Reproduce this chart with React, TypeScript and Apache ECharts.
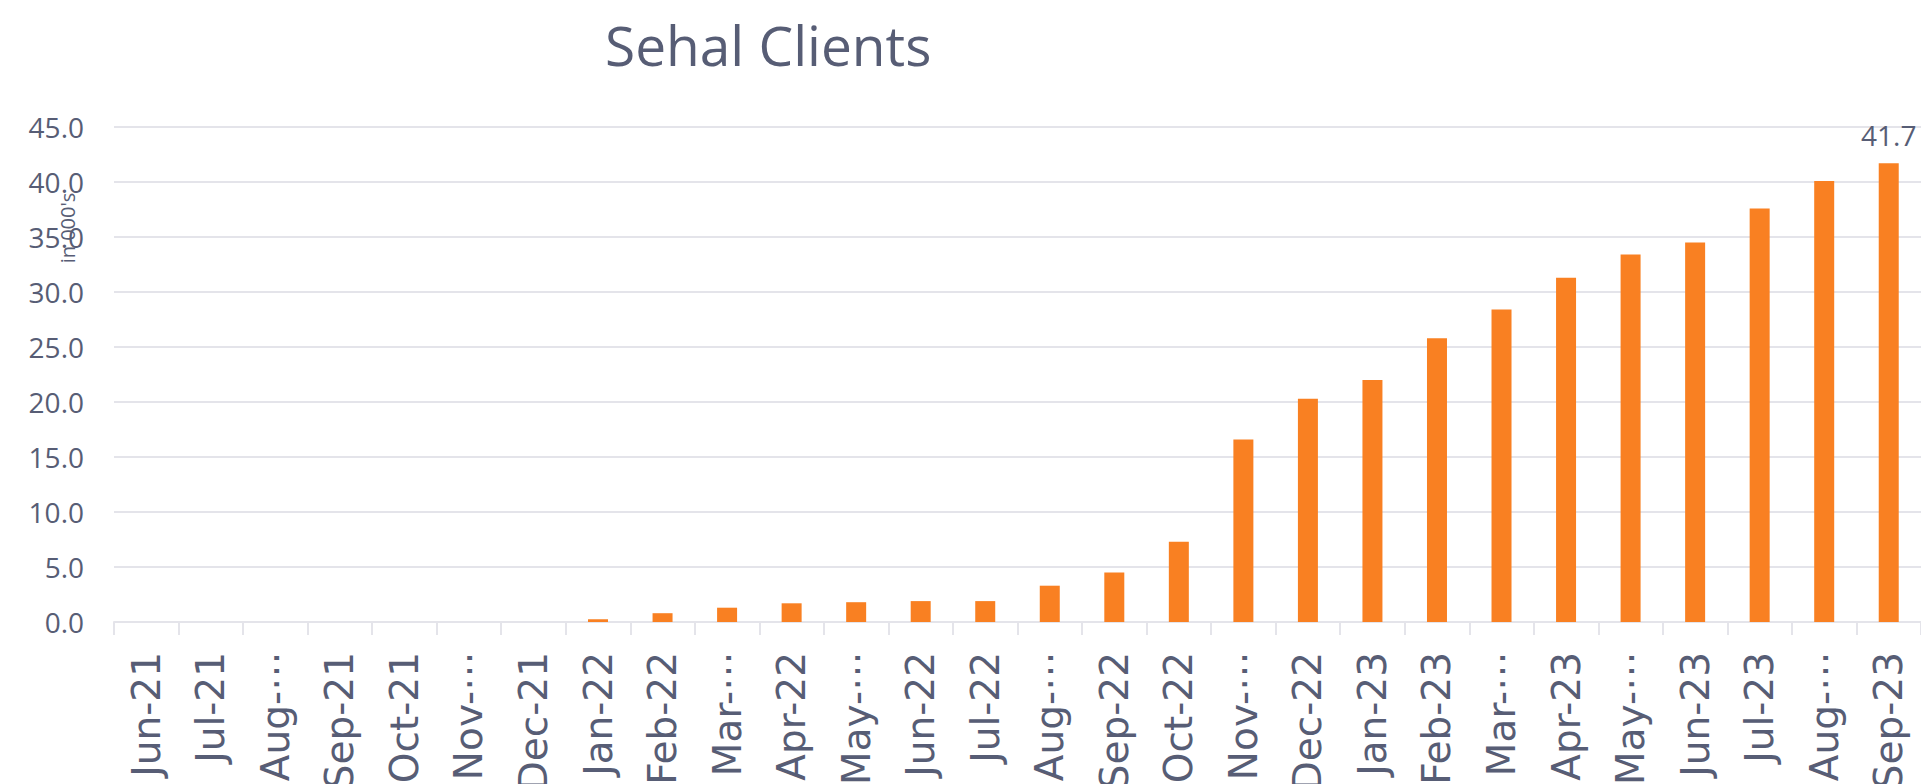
import React, { useEffect, useRef } from "react";
import * as echarts from "echarts";

const titleText = "Sehal Clients";
const axisNameText = "in 000's";
const months = [
  "Jun-21", "Jul-21", "Aug-⋯", "Sep-21", "Oct-21", "Nov-⋯", "Dec-21",
  "Jan-22", "Feb-22", "Mar-⋯", "Apr-22", "May-⋯", "Jun-22", "Jul-22",
  "Aug-⋯", "Sep-22", "Oct-22", "Nov-⋯", "Dec-22", "Jan-23", "Feb-23",
  "Mar-⋯", "Apr-23", "May-⋯", "Jun-23", "Jul-23", "Aug-⋯", "Sep-23",
];
const clients = [
  0, 0, 0, 0, 0, 0, 0,
  0.25, 0.8, 1.3, 1.7, 1.8, 1.9, 1.9,
  3.3, 4.5, 7.3, 16.6, 20.3, 22.0, 25.8,
  28.4, 31.3, 33.4, 34.5, 37.6, 40.1, 41.7,
];
const labeledIndex = [27];

const TEXT = "#575d75";
const BAR = "#f98022";
const GRID = "#e4e4ea";

export default function App() {
  const ref = useRef<HTMLDivElement>(null);
  useEffect(() => {
    if (!ref.current) return;
    const chart = echarts.init(ref.current, null, { renderer: "svg" });
    chart.setOption({
      animation: false,
      backgroundColor: "#ffffff",
      title: {
        text: titleText,
        left: 600,
        top: 12,
        textStyle: {
          fontFamily: "Open Sans",
          fontSize: 55,
          fontWeight: "normal",
          color: TEXT,
        },
      },
      grid: {
        left: 114,
        right: 0,
        top: 127,
        bottom: 162,
        containLabel: false,
        outerBoundsMode: "none",
      },
      xAxis: {
        type: "category",
        data: months,
        boundaryGap: true,
        axisLine: { show: true, lineStyle: { color: GRID, width: 2 } },
        axisTick: { show: true, length: 13, lineStyle: { color: GRID, width: 2 } },
        axisLabel: {
          interval: 0,
          rotate: 90,
          margin: 30,
          fontFamily: "DejaVu Sans",
          fontSize: 39,
          color: TEXT,
        },
      },
      yAxis: {
        type: "value",
        min: 0,
        max: 45,
        interval: 5,
        axisLine: { show: false },
        axisTick: { show: false },
        splitLine: { lineStyle: { color: GRID, width: 2 } },
        axisLabel: {
          margin: 30,
          fontFamily: "Open Sans",
          fontSize: 28,
          color: TEXT,
          formatter: (v: number) => v.toFixed(1),
        },
      },
      graphic: [
        {
          type: "text",
          x: 67,
          y: 228,
          rotation: Math.PI / 2,
          style: {
            text: axisNameText,
            fontFamily: "Open Sans",
            fontSize: 20,
            fill: TEXT,
            align: "center",
            verticalAlign: "middle",
          },
        },
      ],
      series: [
        {
          type: "bar",
          barWidth: 20,
          itemStyle: { color: BAR },
          data: clients.map((v, i) =>
            labeledIndex.includes(i)
              ? {
                  value: v,
                  label: {
                    show: true,
                    position: "top",
                    distance: 14,
                    fontFamily: "Open Sans",
                    fontSize: 28,
                    color: TEXT,
                    formatter: (p: any) => Number(p.value).toFixed(1),
                  },
                }
              : v
          ),
        },
      ],
    });
    return () => chart.dispose();
  }, []);
  return (
    <div
      ref={ref}
      style={{ position: "fixed", left: 0, top: 0, width: "100vw", height: "100vh" }}
    />
  );
}
